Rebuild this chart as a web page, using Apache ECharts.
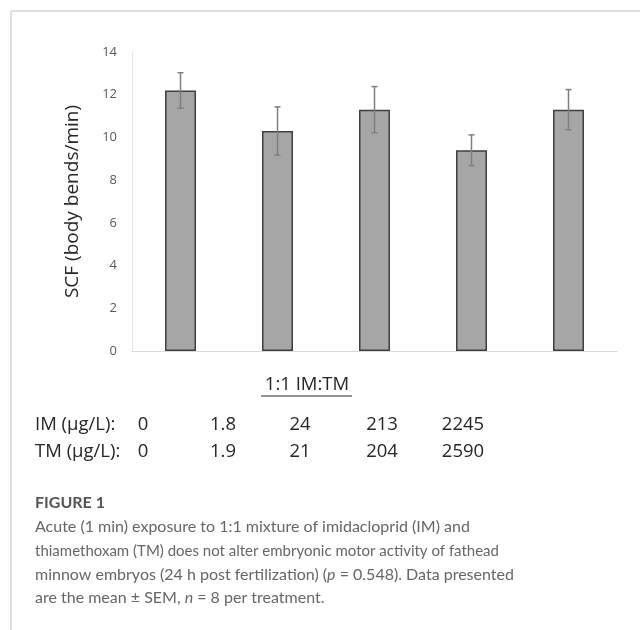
<!DOCTYPE html>
<html>
<head>
<meta charset="utf-8">
<script src="https://cdn.jsdelivr.net/npm/echarts@6/dist/echarts.min.js"></script>
<style>
  html, body { margin: 0; padding: 0; background: #fff; }
  #chart { width: 640px; height: 630px; }
</style>
</head>
<body>
<div id="chart"></div>
<script>
// data
const groups = ['0', '1.8', '24', '213', '2245']
const meanScf = [12.2, 10.3, 11.3, 9.4, 11.3]
const semScf = [0.83, 1.13, 1.08, 0.72, 0.94]
const yTicks = { min: 0, max: 14, interval: 2 }

// concentration table under the chart
const imConc = ['0', '1.8', '24', '213', '2245']
const tmConc = ['0', '1.9', '21', '204', '2590']
const concX = [143, 223, 300, 382, 463]

// caption, {i|..} marks italic runs
const captionLines = [
  'Acute (1 min) exposure to 1:1 mixture of imidacloprid (IM) and',
  'thiamethoxam (TM) does not alter embryonic motor activity of fathead',
  'minnow embryos (24 h post fertilization) ({i|p} = 0.548). Data presented',
  'are the mean ± SEM, {i|n} = 8 per treatment.',
]
const captionSizes = [16, 15, 16, 16]

const chart = echarts.init(document.getElementById('chart'))

const tableFont = { fontFamily: 'Open Sans', fontSize: 18.5, fill: '#262626' }

function tableText(x, y, text, align) {
  return {
    type: 'text', x, y,
    style: Object.assign({ text, textAlign: align || 'center', textVerticalAlign: 'middle' }, tableFont),
  }
}

const graphics = [
  // figure frame
  { type: 'line', shape: { x1: 11, y1: 11, x2: 640, y2: 11 }, style: { stroke: '#d4d4d4', lineWidth: 1.5 } },
  { type: 'line', shape: { x1: 11, y1: 11, x2: 11, y2: 630 }, style: { stroke: '#d4d4d4', lineWidth: 1.5 } },
  tableText(307, 385, '1:1 IM:TM'),
  { type: 'line', shape: { x1: 261, y1: 396, x2: 352, y2: 396 }, style: { stroke: '#262626', lineWidth: 1 } },
  tableText(35, 425, 'IM (µg/L):', 'left'),
  tableText(35, 452, 'TM (µg/L):', 'left'),
]
imConc.forEach((t, i) => graphics.push(tableText(concX[i], 425, t)))
tmConc.forEach((t, i) => graphics.push(tableText(concX[i], 452, t)))

graphics.push({
  type: 'text', x: 35, y: 503,
  style: { text: 'FIGURE 1', fontFamily: 'Lato', fontSize: 16, fontWeight: 'bold', fill: '#555', textVerticalAlign: 'middle' },
})
captionLines.forEach((line, i) => {
  const size = captionSizes[i]
  graphics.push({
    type: 'text', x: 35, y: 527 + i * 23.7,
    style: {
      text: line, fontFamily: 'Lato', fontSize: size, fill: '#666', textVerticalAlign: 'middle',
      rich: { i: { fontFamily: 'Lato', fontSize: size, fontStyle: 'italic', fill: '#666' } },
    },
  })
})

chart.setOption({
  animation: false,
  grid: { left: 132, right: 23, top: 52, bottom: 279 },
  xAxis: {
    type: 'category',
    data: groups,
    axisLine: { lineStyle: { color: '#d9d9d9', width: 1 } },
    axisTick: { show: false },
    axisLabel: { show: false },
  },
  yAxis: {
    type: 'value',
    min: yTicks.min,
    max: yTicks.max,
    interval: yTicks.interval,
    name: 'SCF (body bends/min)',
    nameLocation: 'middle',
    nameGap: 50,
    nameTextStyle: { fontFamily: 'Open Sans', fontSize: 19, color: '#262626' },
    axisLine: { show: true, lineStyle: { color: '#e6e6e6' } },
    axisTick: { show: false },
    splitLine: { show: false },
    axisLabel: { fontFamily: 'Open Sans', fontSize: 13, color: '#595959', margin: 15 },
  },
  series: [
    {
      type: 'bar',
      data: meanScf,
      barWidth: 31,
      itemStyle: { color: '#a6a6a6', borderColor: '#3f3f3f', borderWidth: 1.5 },
    },
    {
      type: 'custom',
      data: meanScf.map((m, i) => [i, m - semScf[i], m + semScf[i]]),
      z: 5,
      renderItem: (params, api) => {
        const lo = api.coord([api.value(0), api.value(1)])
        const hi = api.coord([api.value(0), api.value(2)])
        const cap = 3
        const st = { stroke: '#7f7f7f', lineWidth: 1.5 }
        return {
          type: 'group',
          children: [
            { type: 'line', shape: { x1: hi[0], y1: hi[1], x2: lo[0], y2: lo[1] }, style: st },
            { type: 'line', shape: { x1: hi[0] - cap, y1: hi[1], x2: hi[0] + cap, y2: hi[1] }, style: st },
            { type: 'line', shape: { x1: lo[0] - cap, y1: lo[1], x2: lo[0] + cap, y2: lo[1] }, style: st },
          ],
        }
      },
    },
  ],
  graphic: graphics,
})
</script>
</body>
</html>
